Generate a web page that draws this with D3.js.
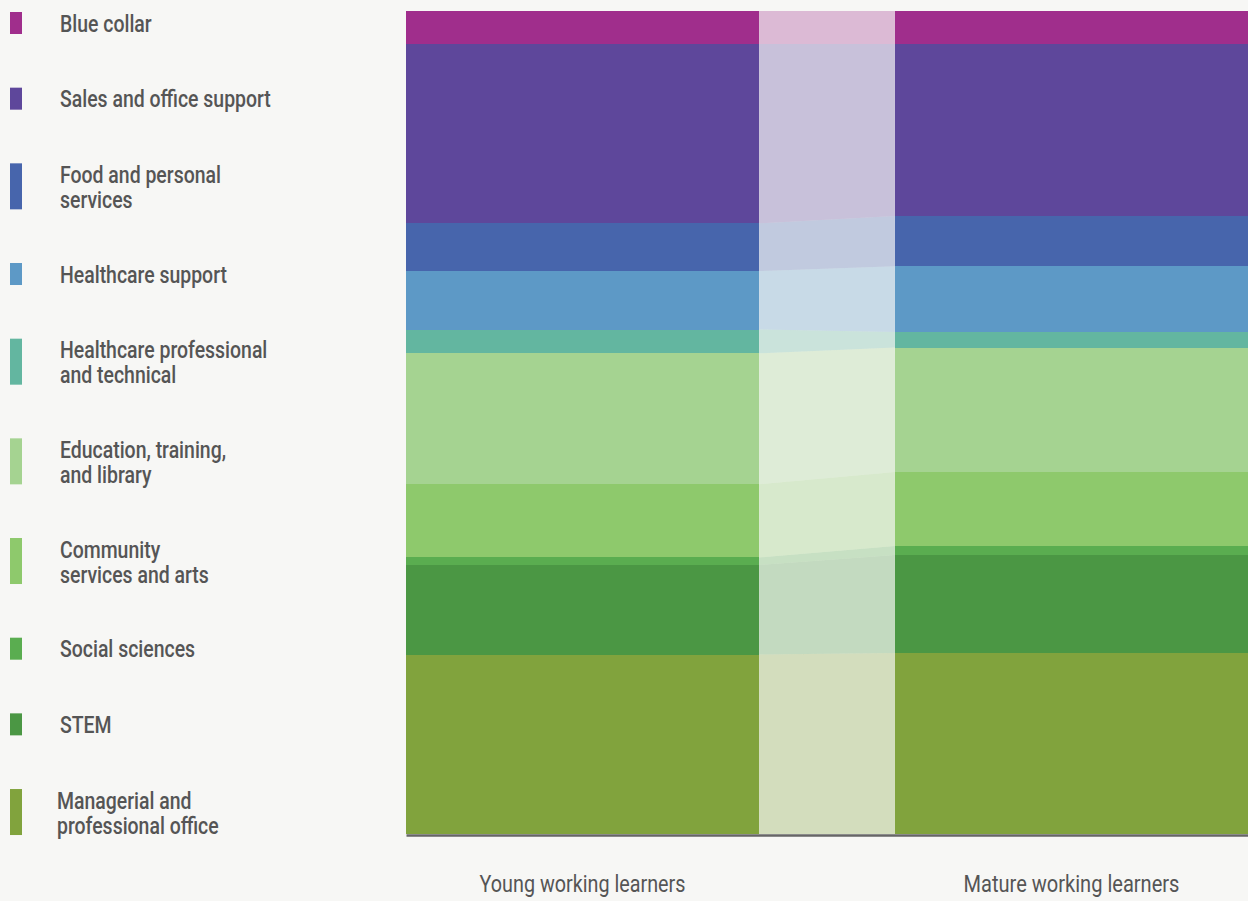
<!DOCTYPE html>
<html>
<head>
<meta charset="utf-8">
<script src="https://cdn.jsdelivr.net/npm/d3@7"></script>
<style>
  html, body { margin: 0; padding: 0; background: #f7f7f5; }
  svg { display: block; }
  text { font-family: Roboto, "Noto Sans", sans-serif; fill: #555555; }
</style>
</head>
<body>
<svg id="chart" width="1248" height="901"></svg>
<script>
// ---- data (legend order: top to bottom) ----
const categories = [
  "Blue collar",
  "Sales and office support",
  "Food and personal services",
  "Healthcare support",
  "Healthcare professional and technical",
  "Education, training, and library",
  "Community services and arts",
  "Social sciences",
  "STEM",
  "Managerial and professional office"
];
const legendLines = [
  ["Blue collar"],
  ["Sales and office support"],
  ["Food and personal", "services"],
  ["Healthcare support"],
  ["Healthcare professional", "and technical"],
  ["Education, training,", "and library"],
  ["Community", "services and arts"],
  ["Social sciences"],
  ["STEM"],
  ["Managerial and", "professional office"]
];
const groups = ["Young working learners", "Mature working learners"];
const youngValues  = [4.0, 21.8, 5.8, 7.1, 2.9, 15.9, 8.9, 0.9, 10.9, 21.8];
const matureValues = [4.0, 20.9, 6.1, 8.0, 1.9, 15.1, 9.0, 1.1, 11.9, 22.0];
const colors = ["#a02e8c", "#5e479b", "#4765ac", "#5d99c6", "#63b6a0",
                "#a5d391", "#8ec96c", "#5aad50", "#4b9744", "#81a33d"];

// ---- layout ----
const svg = d3.select("#chart");
const plotLeft = 406, plotRight = 1248, plotTop = 11, plotBottom = 834;

const rows = groups.map((g, gi) => {
  const r = { group: g };
  categories.forEach((c, ci) => r[c] = (gi === 0 ? youngValues : matureValues)[ci]);
  return r;
});

// stack from bottom (Managerial) to top (Blue collar)
const stackKeys = categories.slice().reverse();
const series = d3.stack().keys(stackKeys)(rows);

const y = d3.scaleLinear().domain([0, 100]).range([plotBottom, plotTop]);
const x = d3.scaleBand().domain(groups).range([plotLeft, plotRight]).paddingInner(0.278).paddingOuter(0);
const color = d3.scaleOrdinal().domain(categories).range(colors);

// connector bands
const bandG = svg.append("g");
series.forEach(s => {
  const a = s[0], b = s[1];
  const x0 = x(groups[0]) + x.bandwidth();
  const x1 = x(groups[1]);
  bandG.append("path")
    .attr("d", `M${x0},${y(a[1])}L${x1},${y(b[1])}L${x1},${y(b[0])}L${x0},${y(a[0])}Z`)
    .attr("fill", color(s.key))
    .attr("fill-opacity", 0.3);
});

// bars
const barG = svg.append("g");
series.forEach(s => {
  barG.selectAll(null).data(s).enter().append("rect")
    .attr("x", d => x(d.data.group))
    .attr("width", x.bandwidth())
    .attr("y", d => y(d[1]))
    .attr("height", d => y(d[0]) - y(d[1]))
    .attr("fill", color(s.key))
    .attr("shape-rendering", "crispEdges");
});

// axis
const axisG = svg.append("g").attr("transform", `translate(0,${plotBottom + 1})`)
  .call(d3.axisBottom(x).tickSize(0).tickPadding(0));
axisG.select(".domain").attr("stroke", "#666").attr("stroke-width", 2.5);
axisG.selectAll(".tick text").remove();

// bottom labels (condensed)
const bottomG = svg.append("g");
const bottomWidths = [206, 216];
groups.forEach((g, gi) => {
  const cx = x(g) + x.bandwidth() / 2;
  const t = bottomG.append("text")
    .attr("text-anchor", "middle")
    .attr("font-size", 24)
    .attr("font-weight", 400)
    .text(g);
  const w = t.node().getComputedTextLength();
  const k = bottomWidths[gi] / w;
  t.attr("transform", `translate(${cx},892) scale(${k},1)`);
});

// legend
const legendG = svg.append("g");
let legendTop = 12;
categories.forEach((c, i) => {
  const lines = legendLines[i];
  const h = 22 + 24 * (lines.length - 1);
  legendG.append("rect")
    .attr("x", 10).attr("y", legendTop).attr("width", 12).attr("height", h)
    .attr("fill", color(c));
  const tx = i === categories.length - 1 ? 57 : 60;
  lines.forEach((ln, li) => {
    legendG.append("text")
      .attr("font-size", 24)
      .attr("font-weight", 500)
      .attr("data-ty", legendTop + 19.7 + li * 25)
      .attr("data-tx", tx)
      .text(ln);
  });
  legendTop += h + 53.67;
});
// condense legend text to match reference width
const probe = legendG.selectAll("text").filter(function() { return this.textContent === "Sales and office support"; });
const kx = 211 / probe.node().getComputedTextLength();
legendG.selectAll("text").each(function() {
  const s = d3.select(this);
  s.attr("transform", `translate(${s.attr("data-tx")},${s.attr("data-ty")}) scale(${kx},1)`);
});
</script>
</body>
</html>
